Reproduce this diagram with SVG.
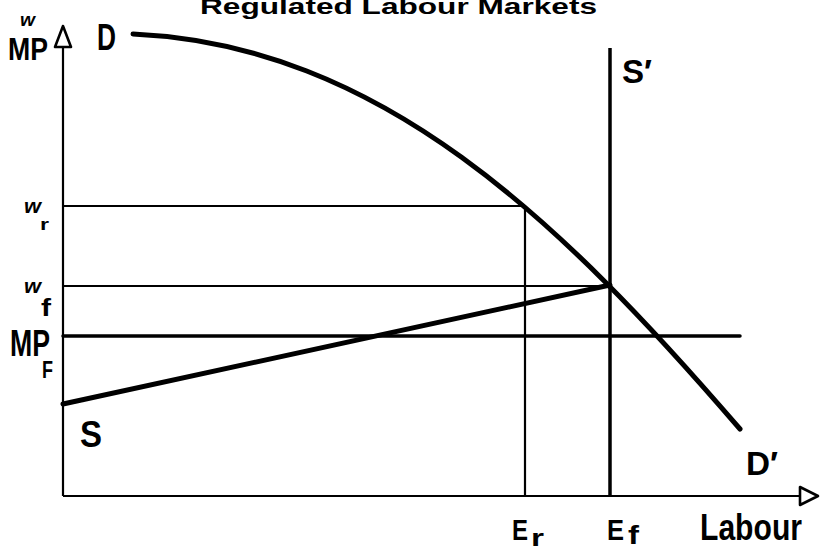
<svg xmlns="http://www.w3.org/2000/svg" width="820" height="552" viewBox="0 0 820 552">
<style>
.ax{stroke:#000;stroke-width:2.2;fill:none}
.thin{stroke:#000;stroke-width:2.2;fill:none}
.thick{stroke:#000;stroke-width:5;fill:none;stroke-linecap:round}
.med{stroke:#000;stroke-width:3.5;fill:none}
.head{stroke:#000;stroke-width:2.6;fill:#fff;stroke-linejoin:round}
text{font-family:"Liberation Sans",Arial,sans-serif;fill:#000;font-weight:bold}
</style>
<rect width="820" height="552" fill="#fff"/>
<text x="200" y="14" style="font-size:22px" textLength="397" lengthAdjust="spacingAndGlyphs">Regulated  Labour  Markets</text>
<g id="connectors">
  <line class="ax" x1="63" y1="47" x2="63" y2="496"/>
  <line class="ax" x1="63" y1="496" x2="800" y2="496"/>
  <polygon class="head" points="63,26 55,47 71,47"/>
  <polygon class="head" points="800,487 800,505 818,496"/>
  <line class="thin" x1="63" y1="206" x2="525" y2="206"/>
  <line class="thin" x1="63" y1="286" x2="610" y2="286"/>
  <line class="thin" x1="525" y1="206" x2="525" y2="496"/>
  <line class="med" x1="610" y1="48" x2="610" y2="496"/>
  <line class="med" x1="63" y1="336" x2="740" y2="336" stroke-linecap="round"/>
  <line class="thick" x1="63" y1="404" x2="610" y2="285"/>
  <path class="thick" d="M133,34 C380,45 560,220 740,429"/>
</g>
<g id="axis-y-label">
  <text x="20" y="26" style="font-size:18px;font-style:italic" textLength="15" lengthAdjust="spacingAndGlyphs">w</text>
  <text x="8" y="60" style="font-size:32px" textLength="40" lengthAdjust="spacingAndGlyphs">MP</text>
</g>
<g id="label-D"><text x="97" y="50" style="font-size:36px" textLength="19" lengthAdjust="spacingAndGlyphs">D</text></g>
<g id="label-Sprime"><text x="622" y="83" style="font-size:34px" textLength="30" lengthAdjust="spacingAndGlyphs">S′</text></g>
<g id="label-wr">
  <text x="24" y="213" style="font-size:21px;font-style:italic" textLength="17" lengthAdjust="spacingAndGlyphs">w</text>
  <text x="40" y="230" style="font-size:16px" textLength="9" lengthAdjust="spacingAndGlyphs">r</text>
</g>
<g id="label-wf">
  <text x="24" y="293" style="font-size:21px;font-style:italic" textLength="17" lengthAdjust="spacingAndGlyphs">w</text>
  <text x="41" y="316" style="font-size:24px" textLength="10" lengthAdjust="spacingAndGlyphs">f</text>
</g>
<g id="label-MPF">
  <text x="10" y="356" style="font-size:36px" textLength="40" lengthAdjust="spacingAndGlyphs">MP</text>
  <text x="42" y="378" style="font-size:23px" textLength="11" lengthAdjust="spacingAndGlyphs">F</text>
</g>
<g id="label-S"><text x="80" y="447" style="font-size:36px" textLength="22" lengthAdjust="spacingAndGlyphs">S</text></g>
<g id="label-Dprime"><text x="746" y="475" style="font-size:34px" textLength="32" lengthAdjust="spacingAndGlyphs">D′</text></g>
<g id="label-Er">
  <text x="512" y="540" style="font-size:30px" textLength="16" lengthAdjust="spacingAndGlyphs">E</text>
  <text x="531" y="546" style="font-size:24px" textLength="13" lengthAdjust="spacingAndGlyphs">r</text>
</g>
<g id="label-Ef">
  <text x="607" y="540" style="font-size:30px" textLength="17" lengthAdjust="spacingAndGlyphs">E</text>
  <text x="628" y="544" style="font-size:26px" textLength="11" lengthAdjust="spacingAndGlyphs">f</text>
</g>
<g id="label-Labour"><text x="700" y="540" style="font-size:36px" textLength="102" lengthAdjust="spacingAndGlyphs">Labour</text></g>
</svg>
